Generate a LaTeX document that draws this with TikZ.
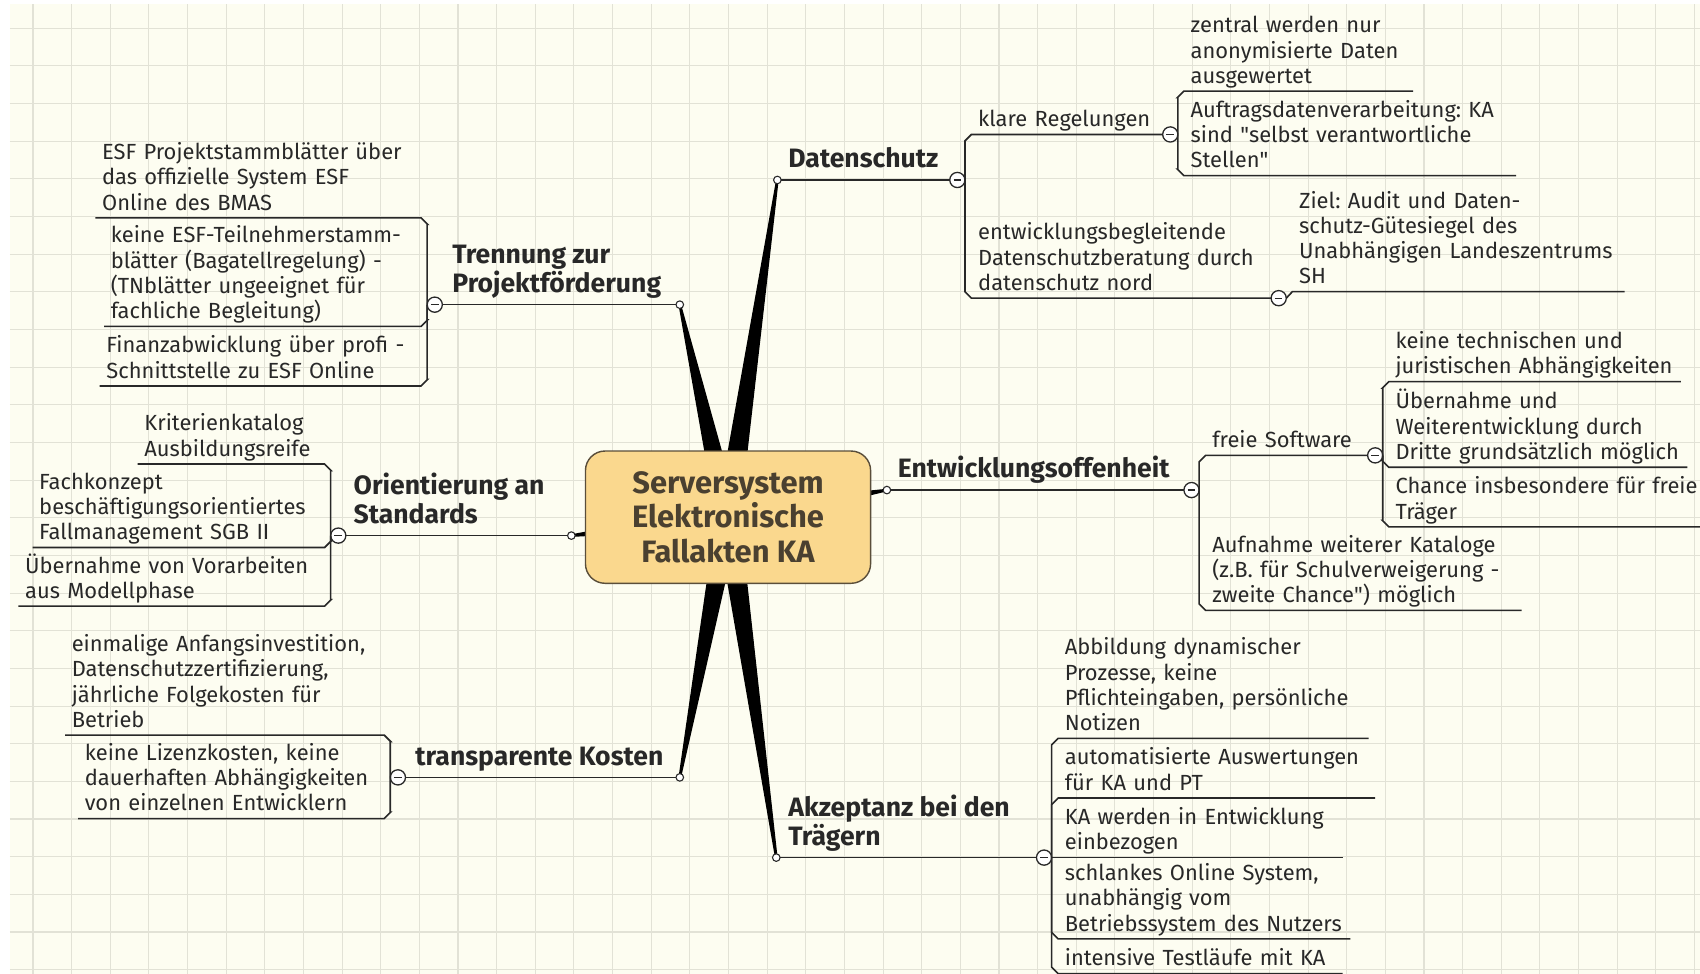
\documentclass[tikz,border=0pt]{standalone}
\usepackage{fontspec}
\setmainfont{Fira Sans}
\usetikzlibrary{calc,backgrounds}
\definecolor{paper}{RGB}{253,253,241}
\definecolor{gridline}{RGB}{226,226,214}
\definecolor{ink}{RGB}{40,40,40}
\definecolor{rootfill}{RGB}{250,216,142}
\definecolor{rootline}{RGB}{90,78,58}
\definecolor{roottext}{RGB}{74,64,48}
\tikzstyle{root}=[draw=rootline, fill=rootfill, line width=1.3pt, rounded corners=18pt, minimum width=263pt, minimum height=122pt, align=center, text=roottext, font=\fontsize{28.5}{31.5}\selectfont\bfseries]
\tikzstyle{branch}=[fill=black]
\tikzstyle{link}=[draw=ink, line width=1.5pt]
\tikzstyle{mainlabel}=[anchor=south west, inner xsep=0pt, inner ysep=3pt, align=left, text=ink, font=\fontsize{24.5}{27}\selectfont\bfseries, execute at end node=\strut]
\tikzstyle{idea}=[anchor=south west, inner xsep=6pt, inner ysep=0pt, align=left, text=ink, font=\fontsize{20.2}{23.3}\selectfont\frenchspacing, execute at end node=\strut]
\tikzstyle{knob}=[circle, draw=ink, fill=white, line width=1pt, inner sep=0pt, outer sep=0pt, minimum size=7pt]
\tikzstyle{fold}=[circle, draw=ink, fill=white, line width=1.2pt, inner sep=0pt, outer sep=0pt, minimum size=14pt, path picture={\draw[line width=1.2pt] ([xshift=-3.5pt]path picture bounding box.center) -- ([xshift=3.5pt]path picture bounding box.center);}]

\begin{document}
\begin{tikzpicture}[x=1pt, y=-1pt]
	\useasboundingbox (0,0) rectangle (1568,898);
	\clip (0,0) rectangle (1568,898);
	% paper and grid
	\begin{pgfonlayer}{background}
		\fill[white] (0,0) rectangle (1568,898);
		\fill[paper] (9,4) rectangle (1568,898);
		\foreach \i in {0,...,43} \draw[gridline, line width=1pt] ({30.4+35.64*\i},4) -- ({30.4+35.64*\i},898);
		\foreach \j in {0,...,25} \draw[gridline, line width=1pt] (9,{26.1+34.73*\j}) -- (1568,{26.1+34.73*\j});
	\end{pgfonlayer}

	\node[root] (root) at (671.5,477) {Serversystem\\Elektronische\\Fallakten KA};

	% main topics
	\node[knob] (tr-e) at (627,281) {};
	\node[knob] (ds-e) at (717,166) {};
	\node[knob] (or-e) at (527,494) {};
	\node[knob] (eo-e) at (818,452) {};
	\node[knob] (tk-e) at (627,717) {};
	\node[knob] (az-e) at (716,791) {};
	\node[fold] (tr-c) at (401,281) {};
	\node[fold] (ds-c) at (883,166) {};
	\node[fold] (or-c) at (312,494) {};
	\node[fold] (eo-c) at (1099,452) {};
	\node[fold] (tk-c) at (367,717) {};
	\node[fold] (az-c) at (963,791) {};
	\node[mainlabel] (tr) at (417,281) {Trennung zur\\Projektförderung};
	\node[mainlabel] (ds) at (727,166) {Datenschutz};
	\node[mainlabel] (or) at (326,494) {Orientierung an\\Standards};
	\node[mainlabel] (eo) at (828,452) {Entwicklungsoffenheit};
	\node[mainlabel] (tk) at (383,717) {transparente Kosten};
	\node[mainlabel] (az) at (727,791) {Akzeptanz bei den\\Trägern};
	\foreach \t in {tr,ds,or,eo,tk,az} \draw[link] (\t-e) -- (\t-c);

	\begin{pgfonlayer}{background}
		\foreach \e in {tr-e,ds-e,or-e,eo-e,tk-e,az-e}
			\fill[branch] ($(root.center)!11pt!90:(\e.center)$) -- ($(\e.center)!1.2pt!-90:(root.center)$) -- ($(\e.center)!1.2pt!90:(root.center)$) -- ($(root.center)!11pt!-90:(\e.center)$) -- cycle;
	\end{pgfonlayer}

	% Datenschutz
	\node[idea, text width=164pt] (kr) at (896,124) {klare Regelungen};
	\node[idea, text width=264pt] (eb) at (896,275) {entwicklungsbegleitende\\Datenschutzberatung durch\\datenschutz nord};
	\node[fold] (kr-c) at ([xshift=7pt]kr.south east) {};
	\node[fold] (eb-c) at ([xshift=7pt]eb.south east) {};
	\node[idea, text width=199pt] (zn) at (1092,84) {zentral werden nur\\anonymisierte Daten\\ausgewertet};
	\node[idea, text width=294pt] (ad) at (1092,162) {Auftragsdatenverarbeitung: KA\\sind \textquotedbl selbst verantwortliche\\Stellen\textquotedbl};
	\node[idea, text width=294pt] (zi) at (1192,269) {Ziel: Audit und Daten-\\schutz-Gütesiegel des\\Unabhängigen Landeszentrums\\SH};
	\foreach \n/\s in {kr/6,eb/-6} \draw[link] (ds-c.east) |- ($(\n.south west)+(-6,\s)$) -- (\n.south west) -- (\n.south east);
	\foreach \n/\s in {zn/6,ad/-6} \draw[link] (kr-c.east) |- ($(\n.south west)+(-6,\s)$) -- (\n.south west) -- (\n.south east);
	\draw[link] (eb-c.east) -- (zi.south west) -- (zi.south east);

	% Entwicklungsoffenheit
	\node[idea, text width=137pt] (fs) at (1112,420) {freie Software};
	\node[idea, text width=279pt] (ak) at (1112,563) {Aufnahme weiterer Kataloge\\(z.B. für Schulverweigerung -\\zweite Chance\textquotedbl) möglich};
	\node[fold] (fs-c) at ([xshift=7pt]fs.south east) {};
	\node[idea, text width=257pt] (kt) at (1281,352) {keine technischen und\\juristischen Abhängigkeiten};
	\node[idea, text width=263pt] (ue) at (1281,431) {Übernahme und\\Weiterentwicklung durch\\Dritte grundsätzlich möglich};
	\node[idea, text width=300pt] (ch) at (1281,486) {Chance insbesondere für freie\\Träger};
	\foreach \n/\s in {fs/6,ak/-6} \draw[link] (eo-c.east) |- ($(\n.south west)+(-6,\s)$) -- (\n.south west) -- (\n.south east);
	\foreach \n/\s in {kt/6,ue/-6,ch/-6} \draw[link] (fs-c.east) |- ($(\n.south west)+(-6,\s)$) -- (\n.south west) -- (\n.south east);

	% Akzeptanz bei den Traegern
	\node[idea, text width=274pt] (ab) at (976,681) {Abbildung dynamischer\\Prozesse, keine\\Pflichteingaben, persönliche\\Notizen};
	\node[idea, text width=280pt] (au) at (976,736) {automatisierte Auswertungen\\für KA und PT};
	\node[idea, text width=250pt] (kw) at (976,791) {KA werden in Entwicklung\\einbezogen};
	\node[idea, text width=257pt] (sl) at (976,866) {schlankes Online System,\\unabhängig vom\\Betriebssystem des Nutzers};
	\node[idea, text width=250pt] (it) at (976,898) {intensive Testläufe mit KA};
	\foreach \n/\s in {ab/6,au/6,kw/0,sl/-6,it/-6} \draw[link] (az-c.east) |- ($(\n.south west)+(-6,\s)$) -- (\n.south west) -- (\n.south east);

	% Trennung zur Projektfoerderung
	\node[idea, text width=288pt] (ep) at (88,201) {ESF Projektstammblätter über\\das offizielle System ESF\\Online des BMAS};
	\node[idea, text width=280pt] (tb) at (96,301) {keine ESF-Teilnehmerstamm-\\blätter (Bagatellregelung) -\\(TNblätter ungeeignet für\\fachliche Begleitung)};
	\node[idea, text width=284pt] (fa) at (92,356) {Finanzabwicklung über profi -\\Schnittstelle zu ESF Online};
	\foreach \n/\s in {ep/6,tb/-6,fa/-6} \draw[link] (tr-c.west) |- ($(\n.south east)+(6,\s)$) -- (\n.south east) -- (\n.south west);

	% Orientierung an Standards
	\node[idea, text width=160pt] (kk) at (127,428) {Kriterienkatalog\\Ausbildungsreife};
	\node[idea, text width=257pt] (fk) at (30,505) {Fachkonzept\\beschäftigungsorientiertes\\Fallmanagement SGB II};
	\node[idea, text width=270pt] (um) at (17,559) {Übernahme von Vorarbeiten\\aus Modellphase};
	\foreach \n/\s in {kk/6,fk/-6,um/-6} \draw[link] (or-c.west) |- ($(\n.south east)+(6,\s)$) -- (\n.south east) -- (\n.south west);

	% transparente Kosten
	\node[idea, text width=282pt] (ei) at (60,678) {einmalige Anfangsinvestition,\\Datenschutzzertifizierung,\\jährliche Folgekosten für\\Betrieb};
	\node[idea, text width=270pt] (lz) at (72,755) {keine Lizenzkosten, keine\\dauerhaften Abhängigkeiten\\von einzelnen Entwicklern};
	\foreach \n/\s in {ei/6,lz/-6} \draw[link] (tk-c.west) |- ($(\n.south east)+(6,\s)$) -- (\n.south east) -- (\n.south west);
\end{tikzpicture}
\end{document}
